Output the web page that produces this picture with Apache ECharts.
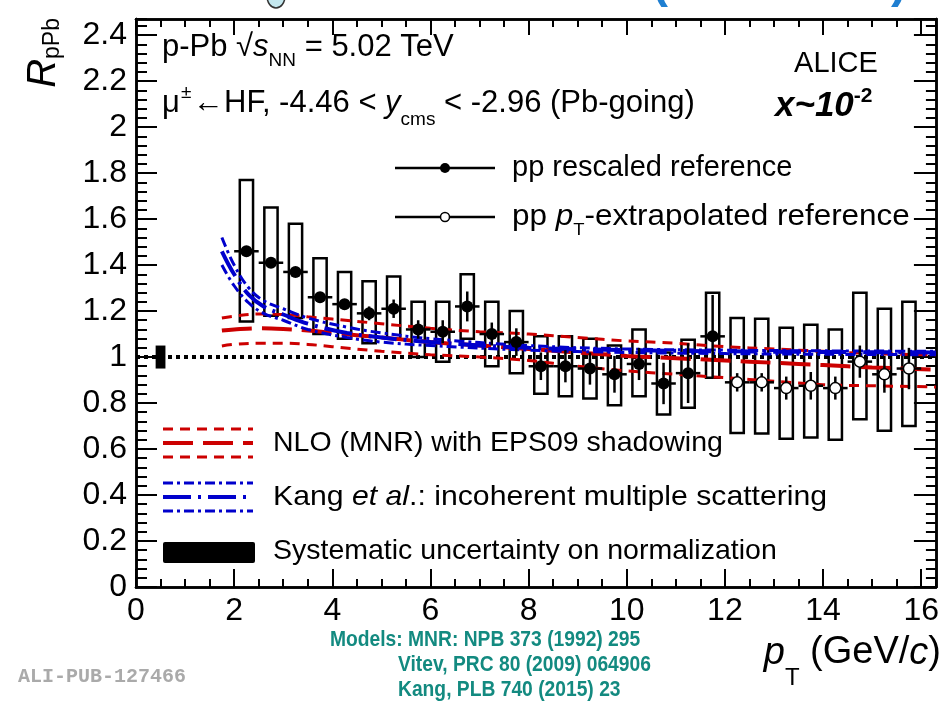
<!DOCTYPE html>
<html>
<head>
<meta charset="utf-8">
<script src="https://cdn.jsdelivr.net/npm/echarts@6/dist/echarts.min.js"></script>
<style>
  html, body { margin: 0; padding: 0; background: #fff; }
  #main { width: 942px; height: 706px; }
</style>
</head>
<body>
<div id="main"></div>
<script>
// pp rescaled reference (filled markers)
const ptRescaled = [2.25, 2.75, 3.25, 3.75, 4.25, 4.75, 5.25, 5.75, 6.25, 6.75, 7.25, 7.75, 8.25, 8.75, 9.25, 9.75, 10.25, 10.75, 11.25, 11.75];
const rRescaled = [1.46, 1.41, 1.37, 1.26, 1.23, 1.19, 1.21, 1.12, 1.11, 1.22, 1.10, 1.065, 0.96, 0.96, 0.95, 0.925, 0.97, 0.885, 0.93, 1.09];
const statRescaled = [0.02, 0.02, 0.02, 0.02, 0.02, 0.03, 0.04, 0.04, 0.05, 0.065, 0.05, 0.06, 0.06, 0.07, 0.07, 0.08, 0.07, 0.09, 0.13, 0.18];
const sysLoRescaled = [1.155, 1.18, 1.17, 1.10, 1.08, 1.06, 1.08, 1.00, 0.98, 1.08, 0.96, 0.93, 0.84, 0.83, 0.82, 0.79, 0.83, 0.75, 0.78, 0.91];
const sysHiRescaled = [1.77, 1.65, 1.58, 1.43, 1.37, 1.33, 1.35, 1.24, 1.24, 1.36, 1.24, 1.20, 1.09, 1.09, 1.08, 1.05, 1.12, 1.02, 1.075, 1.28];

// pp pT-extrapolated reference (open markers)
const ptExtrap = [12.25, 12.75, 13.25, 13.75, 14.25, 14.75, 15.25, 15.75];
const rExtrap = [0.89, 0.89, 0.865, 0.875, 0.865, 0.98, 0.925, 0.95];
const statExtrap = [0.04, 0.04, 0.05, 0.06, 0.05, 0.07, 0.08, 0.09];
const sysLoExtrap = [0.67, 0.667, 0.645, 0.65, 0.64, 0.73, 0.68, 0.70];
const sysHiExtrap = [1.17, 1.167, 1.127, 1.14, 1.12, 1.28, 1.21, 1.24];

// normalization uncertainty: [pT, low, high]
const normBox = [0.5, 0.95, 1.05];

// NLO (MNR) with EPS09 shadowing
const ptMnr = [1.75, 2, 2.5, 3, 3.5, 4, 5, 6, 7, 8, 9, 10, 11, 12, 13, 14, 15, 16.3];
const mnrCentral = [1.115, 1.12, 1.125, 1.122, 1.115, 1.105, 1.085, 1.065, 1.05, 1.035, 1.02, 1.005, 0.995, 0.985, 0.975, 0.965, 0.955, 0.945];
const mnrUpper = [1.17, 1.178, 1.187, 1.185, 1.175, 1.165, 1.145, 1.125, 1.11, 1.10, 1.085, 1.07, 1.06, 1.045, 1.035, 1.025, 1.015, 1.01];
const mnrLower = [1.048, 1.055, 1.06, 1.06, 1.055, 1.045, 1.025, 1.01, 1.0, 0.985, 0.96, 0.94, 0.925, 0.91, 0.895, 0.88, 0.875, 0.87];

// Kang et al.: incoherent multiple scattering
const ptKang = [1.75, 2, 2.3, 2.6, 3, 3.5, 4.3, 5, 6, 8, 10, 12, 14, 16.3];
const kangUpper = [1.52, 1.40, 1.30, 1.245, 1.21, 1.17, 1.13, 1.105, 1.08, 1.05, 1.035, 1.03, 1.027, 1.025];
const kangCentral = [1.46, 1.36, 1.27, 1.22, 1.185, 1.145, 1.105, 1.085, 1.065, 1.04, 1.03, 1.025, 1.022, 1.02];
const kangLower = [1.40, 1.31, 1.235, 1.19, 1.16, 1.12, 1.085, 1.065, 1.05, 1.03, 1.02, 1.015, 1.012, 1.01];

const X_MAX = 16.3;
const Y_MAX = 2.47;
const FONT = "'Liberation Sans', Arial, Helvetica, sans-serif";
const RED = '#cc0000';
const BLUE = '#0000cc';
const TEAL = '#138a80';
const BOX_HALF = 0.135;
const BIN_HALF = 0.25;

const zip = (a, b) => a.map((v, i) => [v, b[i]]);

const chart = echarts.init(document.getElementById('main'));

function xAx(pos, interval, tickLen, withLabel) {
  return {
    type: 'value', position: pos, min: 0, max: X_MAX, interval: interval,
    axisLine: { show: true, onZero: false, lineStyle: { color: '#000', width: 2.5 } },
    axisTick: { show: true, inside: true, length: tickLen, lineStyle: { color: '#000', width: 2 } },
    axisLabel: { show: withLabel, fontSize: 32, color: '#000', fontFamily: FONT, margin: 8, showMaxLabel: false },
    splitLine: { show: false }
  };
}
function yAx(pos, interval, tickLen, withLabel) {
  return {
    type: 'value', position: pos, min: 0, max: Y_MAX, interval: interval,
    axisLine: { show: true, onZero: false, lineStyle: { color: '#000', width: 2.5 } },
    axisTick: { show: true, inside: true, length: tickLen, lineStyle: { color: '#000', width: 2 } },
    axisLabel: { show: withLabel, fontSize: 32, color: '#000', fontFamily: FONT, margin: 9, showMaxLabel: false },
    splitLine: { show: false }
  };
}

const boxSeries = (pts, lo, hi) => ({
  type: 'custom',
  data: pts.map((p, i) => [p, lo[i], hi[i]]),
  renderItem: (params, api) => {
    const a = api.coord([api.value(0) - BOX_HALF, api.value(2)]);
    const b = api.coord([api.value(0) + BOX_HALF, api.value(1)]);
    return {
      type: 'rect',
      shape: { x: a[0], y: a[1], width: b[0] - a[0], height: b[1] - a[1] },
      style: { fill: 'none', stroke: '#000', lineWidth: 2.5 }
    };
  },
  z: 2
});

const errSeries = (pts, vals, errs) => ({
  type: 'custom',
  data: pts.map((p, i) => [p, vals[i], errs[i]]),
  renderItem: (params, api) => {
    const x = api.value(0), y = api.value(1), e = api.value(2);
    const top = api.coord([x, y + e]);
    const bot = api.coord([x, y - e]);
    const l = api.coord([x - BIN_HALF, y]);
    const r = api.coord([x + BIN_HALF, y]);
    return {
      type: 'group',
      children: [
        { type: 'line', shape: { x1: top[0], y1: top[1], x2: bot[0], y2: bot[1] }, style: { stroke: '#000', lineWidth: 2.5 } },
        { type: 'line', shape: { x1: l[0], y1: l[1], x2: r[0], y2: r[1] }, style: { stroke: '#000', lineWidth: 2.5 } }
      ]
    };
  },
  z: 6
});

const curve = (xs, ys, color, dash, width) => ({
  type: 'line',
  data: zip(xs, ys),
  smooth: 0.4,
  symbol: 'none',
  lineStyle: { color: color, width: width, type: dash },
  z: 4
});

// rich styles for sub/superscripts at a given base size
function richFor(size, family, weight, fill) {
  const f = family || FONT, w = weight || 'normal';
  const base = { fontFamily: f, fontWeight: w };
  if (fill) base.color = fill;
  const sm = Math.round(size * 0.6);
  return {
    n: Object.assign({ fontSize: size }, base),
    i: Object.assign({ fontSize: size, fontStyle: 'italic' }, base),
    sub: Object.assign({ fontSize: sm, lineHeight: 10, verticalAlign: 'bottom' }, base),
    sup: Object.assign({ fontSize: sm, lineHeight: 10, verticalAlign: 'top' }, base)
  };
}

const txt = (x, y, text, size, extra) => {
  const ex = extra || {};
  return {
    type: 'text', x: x, y: y, z: 100, scaleX: ex.scaleX || 1,
    style: Object.assign({
      text: text, fontSize: size, fontFamily: FONT, fill: '#000',
      align: 'left', textAlign: 'left', verticalAlign: 'middle', textVerticalAlign: 'middle',
      lineHeight: 36, rich: richFor(size, ex.fontFamily, ex.fontWeight, ex.fill)
    }, ex)
  };
};

const option = {
  animation: false,
  backgroundColor: '#fff',
  grid: { left: 136, right: 4, top: 19, bottom: 119, containLabel: false },
  xAxis: [
    xAx('bottom', 2, 18, true),
    xAx('bottom', 0.5, 8, false),
    xAx('top', 2, 16, false),
    xAx('top', 0.5, 8, false)
  ],
  yAxis: [
    yAx('left', 0.2, 21, true),
    yAx('left', 0.04, 11, false),
    yAx('right', 0.2, 22, false),
    yAx('right', 0.04, 10, false)
  ],
  series: [
    boxSeries(ptRescaled, sysLoRescaled, sysHiRescaled),
    boxSeries(ptExtrap, sysLoExtrap, sysHiExtrap),
    {
      type: 'custom',
      data: [normBox],
      renderItem: (params, api) => {
        const a = api.coord([api.value(0) - 0.1, api.value(2)]);
        const b = api.coord([api.value(0) + 0.1, api.value(1)]);
        return { type: 'rect', shape: { x: a[0], y: a[1], width: b[0] - a[0], height: b[1] - a[1] }, style: { fill: '#000' } };
      },
      z: 3
    },
    {
      type: 'line', data: [[0, 1], [X_MAX, 1]], symbol: 'none',
      lineStyle: { color: '#000', width: 4, type: [4, 4] }, z: 3
    },
    curve(ptMnr, mnrUpper, RED, [10, 7], 3),
    curve(ptMnr, mnrLower, RED, [10, 7], 3),
    curve(ptMnr, mnrCentral, RED, [30, 10], 4),
    curve(ptKang, kangUpper, BLUE, [10, 4, 3, 4], 3),
    curve(ptKang, kangLower, BLUE, [10, 4, 3, 4], 3),
    curve(ptKang, kangCentral, BLUE, [28, 7, 3, 7], 4),
    errSeries(ptRescaled, rRescaled, statRescaled),
    errSeries(ptExtrap, rExtrap, statExtrap),
    {
      type: 'scatter', data: zip(ptRescaled, rRescaled), symbol: 'circle', symbolSize: 12,
      itemStyle: { color: '#000', opacity: 1 }, z: 7
    },
    {
      type: 'scatter', data: zip(ptExtrap, rExtrap), symbol: 'circle', symbolSize: 11,
      itemStyle: { color: '#fff', borderColor: '#000', borderWidth: 1.5, opacity: 1 }, z: 7
    }
  ],
  graphic: [
    // slide fragments at the very top
    { type: 'ellipse', shape: { cx: 276, cy: -4, rx: 9, ry: 12 }, style: { fill: '#c4e8ef', stroke: '#333', lineWidth: 1.5 } },
    txt(652, -16, '(', 48, { fill: '#1f7fd1', fontWeight: 'bold' }),
    txt(891, -16, ')', 48, { fill: '#1f7fd1', fontWeight: 'bold' }),

    // physics labels
    txt(162, 47, 'p-Pb √{i|s}{sub|NN} = 5.02 TeV', 31, { lineHeight: 46 }),
    txt(162, 103, 'μ', 31),
    txt(181, 93, '±', 19),
    txt(193, 103, '←HF, -4.46 < {i|y}{sub|cms} < -2.96 (Pb-going)', 31, { lineHeight: 52 }),
    txt(836, 64, 'ALICE', 29, { align: 'center', textAlign: 'center' }),
    txt(775, 106, '{bi|x~10}{bs|-2}', 35, {
      lineHeight: 40,
      rich: {
        bi: { fontWeight: 'bold', fontStyle: 'italic', fontSize: 35, fontFamily: FONT },
        bs: { fontWeight: 'bold', fontSize: 21, lineHeight: 10, verticalAlign: 'top', fontFamily: FONT }
      }
    }),

    // upper legend
    { type: 'line', shape: { x1: 395, y1: 168, x2: 495, y2: 168 }, style: { stroke: '#000', lineWidth: 2.5 } },
    { type: 'circle', shape: { cx: 445, cy: 168, r: 5 }, style: { fill: '#000' } },
    txt(512, 168, 'pp rescaled reference', 29),
    { type: 'line', shape: { x1: 395, y1: 217, x2: 495, y2: 217 }, style: { stroke: '#000', lineWidth: 2.5 } },
    { type: 'circle', shape: { cx: 445, cy: 217, r: 4.5 }, style: { fill: '#fff', stroke: '#000', lineWidth: 1.5 } },
    txt(512, 217, 'pp {i|p}{sub|T}-extrapolated reference', 29, { scaleX: 1.085, lineHeight: 44 }),

    // lower legend
    { type: 'line', shape: { x1: 163, y1: 429, x2: 253, y2: 429 }, style: { stroke: RED, lineWidth: 3, lineDash: [10, 7] } },
    { type: 'line', shape: { x1: 163, y1: 443, x2: 253, y2: 443 }, style: { stroke: RED, lineWidth: 4, lineDash: [30, 10] } },
    { type: 'line', shape: { x1: 163, y1: 457, x2: 253, y2: 457 }, style: { stroke: RED, lineWidth: 3, lineDash: [10, 7] } },
    txt(273, 443, 'NLO (MNR) with EPS09 shadowing', 28.5),
    { type: 'line', shape: { x1: 163, y1: 483, x2: 253, y2: 483 }, style: { stroke: BLUE, lineWidth: 3, lineDash: [10, 4, 3, 4] } },
    { type: 'line', shape: { x1: 163, y1: 497, x2: 253, y2: 497 }, style: { stroke: BLUE, lineWidth: 4, lineDash: [28, 7, 3, 7] } },
    { type: 'line', shape: { x1: 163, y1: 511, x2: 253, y2: 511 }, style: { stroke: BLUE, lineWidth: 3, lineDash: [10, 4, 3, 4] } },
    txt(273, 497, 'Kang {i|et al}.: incoherent multiple scattering', 28.5, { scaleX: 1.06 }),
    { type: 'rect', shape: { x: 163, y: 542, width: 92, height: 21, r: 2 }, style: { fill: '#000' } },
    txt(273, 551, 'Systematic uncertainty on normalization', 28.5),

    // axis titles
    {
      type: 'text', x: 44, y: 18, rotation: Math.PI / 2, z: 100,
      style: {
        text: '{R|R}{s|pPb}', align: 'right', textAlign: 'right', verticalAlign: 'middle', textVerticalAlign: 'middle',
        fontSize: 38, fontFamily: FONT, fill: '#000', lineHeight: 40,
        rich: {
          R: { fontStyle: 'italic', fontSize: 40, fontFamily: FONT },
          s: { fontSize: 23, lineHeight: 16, verticalAlign: 'bottom', fontFamily: FONT }
        }
      }
    },
    txt(941, 653, '{i|p}{s|T} (GeV/{i|c})', 38, {
      align: 'right', textAlign: 'right', lineHeight: 74,
      rich: {
        n: { fontSize: 38, fontFamily: FONT },
        i: { fontStyle: 'italic', fontSize: 38, fontFamily: FONT },
        s: { fontSize: 24, lineHeight: 4, verticalAlign: 'bottom', fontFamily: FONT }
      }
    }),

    // model references
    txt(330, 640, 'Models: MNR: NPB 373 (1992) 295', 22, { fill: TEAL, fontWeight: 'bold', scaleX: 0.875 }),
    txt(398, 665, 'Vitev, PRC 80 (2009) 064906', 22, { fill: TEAL, fontWeight: 'bold', scaleX: 0.875 }),
    txt(398, 690, 'Kang, PLB 740 (2015) 23', 22, { fill: TEAL, fontWeight: 'bold', scaleX: 0.875 }),

    txt(18, 677, 'ALI-PUB-127466', 20, { fill: '#aaaaaa', fontWeight: 'bold', fontFamily: "'Liberation Mono', 'DejaVu Sans Mono', monospace" })
  ]
};

chart.setOption(option);
window.onresize = function () { chart.resize(); };
</script>
</body>
</html>
